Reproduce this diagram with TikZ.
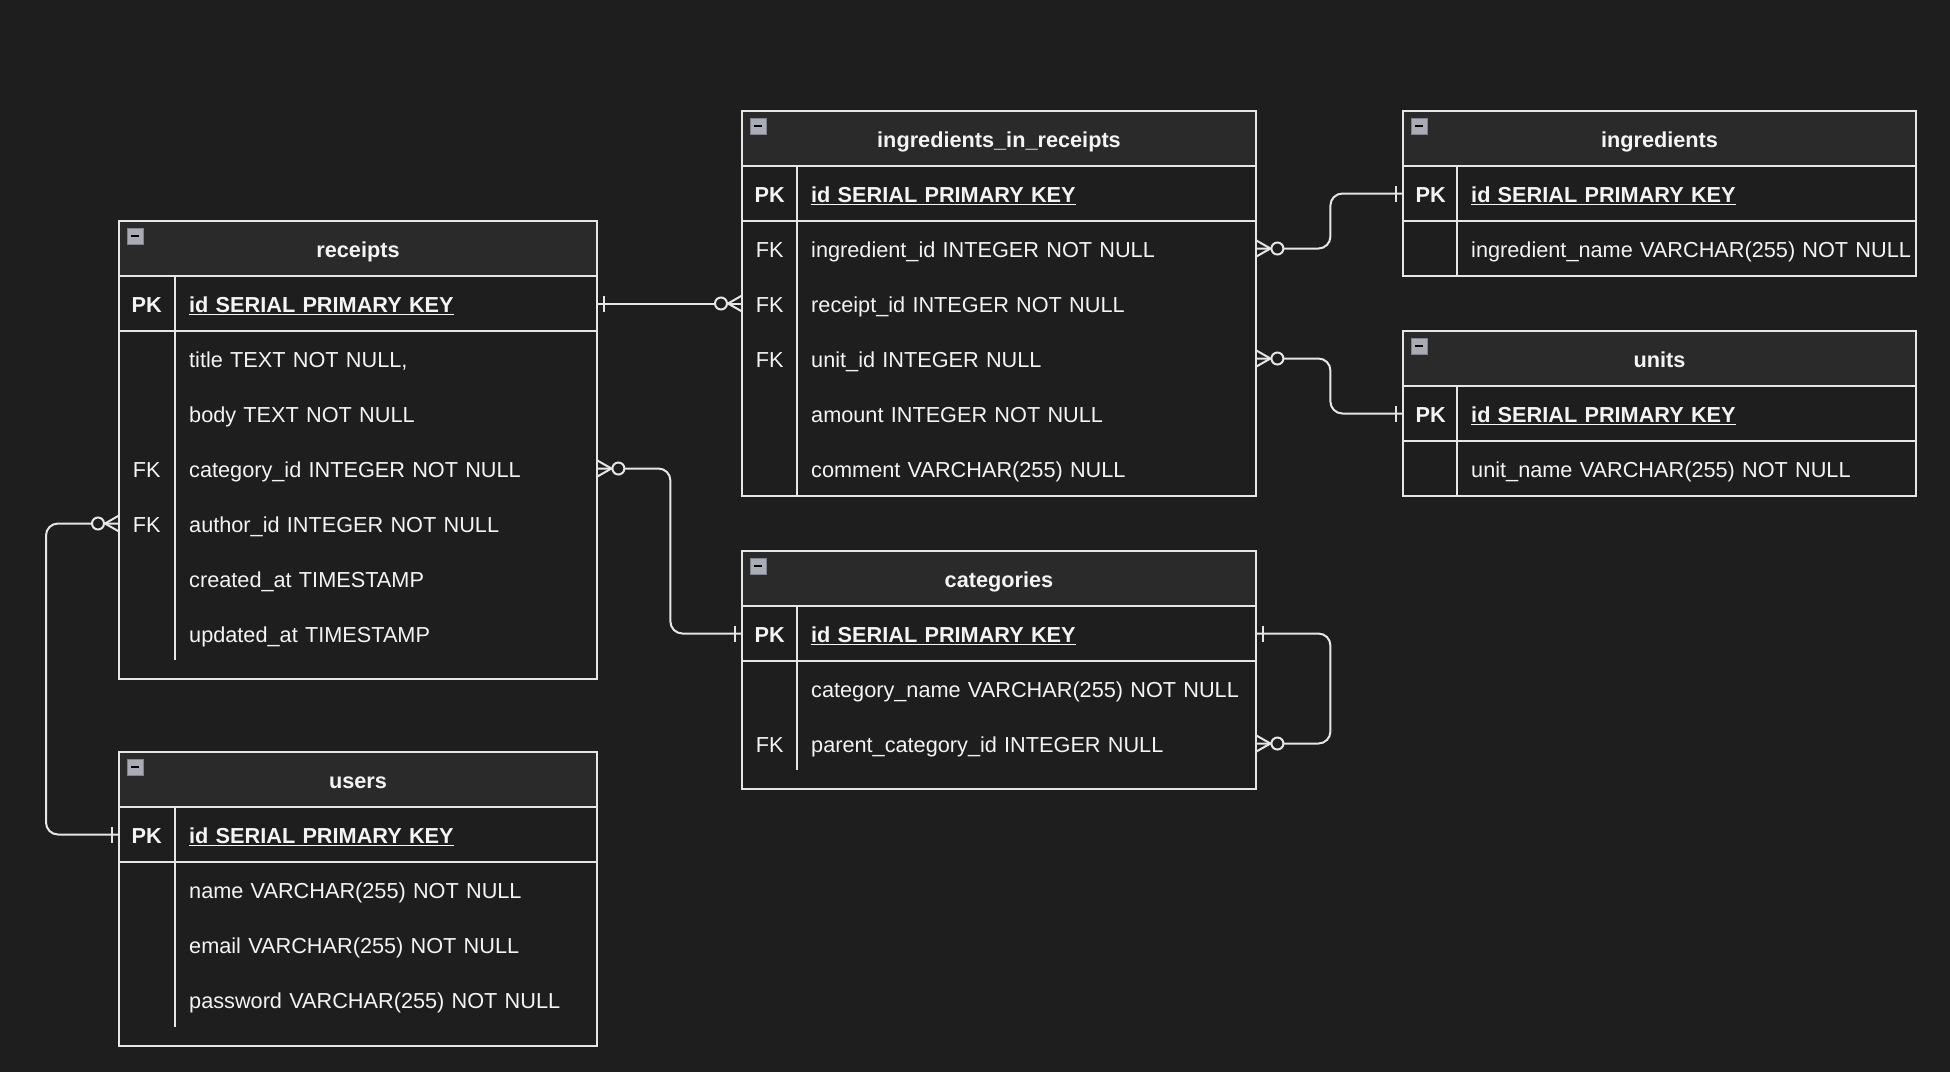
\documentclass[tikz,border=0pt]{standalone}
\usepackage{fontspec}
\setmainfont{Liberation Sans}
\usetikzlibrary{calc}

\definecolor{canvas}{HTML}{1E1E1E}
\definecolor{headfill}{HTML}{2A2A2A}
\definecolor{edge}{HTML}{E6E6E6}
\definecolor{ink}{HTML}{F4F4F4}
\definecolor{iconfill}{HTML}{A9ACB5}
\definecolor{iconedge}{HTML}{7D8391}

\newcommand{\erfont}{\fontsize{21.7pt}{26pt}\selectfont}

\tikzset{
  tbl/.style={draw=edge, line width=2pt},
  hdr/.style={tbl, fill=headfill},
  tname/.style={text=ink, font=\erfont\bfseries, inner sep=0pt, text height=17.6pt, text depth=0pt},
  kcell/.style={anchor=west, text=ink, font=\erfont, minimum width=55pt, inner sep=0pt, text height=17.6pt, text depth=0pt},
  fcell/.style={anchor=west, text=ink, font=\erfont, inner xsep=14pt, inner ysep=0pt, text width=#1, align=left, text height=17.6pt, text depth=0pt},
  conn/.style={draw=edge, line width=2pt, rounded corners=12pt},
  many/.pic={
    \draw[edge, line width=2pt] (0,-8) -- (-14,0) -- (0,8);
    \draw[edge, line width=2pt, fill=canvas] (-21,0) circle (6);
  },
  one/.pic={\draw[edge, line width=2pt] (-7,-8) -- (-7,8);},
  icon/.pic={
    \draw[iconedge, fill=iconfill, line width=1pt] (0,0) rectangle (16,-16);
    \draw[black, line width=2pt] (4,-8) -- (12,-8);
  }
}

\begin{document}
\begin{tikzpicture}[x=1pt,y=1pt,yscale=-1]
%Background
\fill[canvas] (0,0) rectangle (1950,1072);

%Table: receipts
\draw[tbl] (119,221) rectangle (597,679);
\draw[hdr] (119,221) rectangle (597,276);
\draw[tbl] (119,331) -- (597,331);
\draw[tbl] (175,276) -- (175,660);
\pic at (127,228) {icon};
% Text Node
\node[tname] (rc-h) at (358,248.5) {receipts};
\node[kcell] (rc-k1) at (119,303.5) {\textbf{PK}};
\node[fcell=394pt] (rc-f1) at (175,303.5) {\textbf{\underline{id SERIAL PRIMARY KEY}}};
\node[fcell=394pt] (rc-f2) at (175,358.5) {title TEXT NOT NULL,};
\node[fcell=394pt] (rc-f3) at (175,413.5) {body TEXT NOT NULL};
\node[kcell] (rc-k4) at (119,468.5) {FK};
\node[fcell=394pt] (rc-f4) at (175,468.5) {category\_id INTEGER NOT NULL};
\node[kcell] (rc-k5) at (119,523.5) {FK};
\node[fcell=394pt] (rc-f5) at (175,523.5) {author\_id INTEGER NOT NULL};
\node[fcell=394pt] (rc-f6) at (175,578.5) {created\_at TIMESTAMP};
\node[fcell=394pt] (rc-f7) at (175,633.5) {updated\_at TIMESTAMP};

%Table: users
\draw[tbl] (119,752) rectangle (597,1046);
\draw[hdr] (119,752) rectangle (597,807);
\draw[tbl] (119,862) -- (597,862);
\draw[tbl] (175,807) -- (175,1027);
\pic at (127,759) {icon};
% Text Node
\node[tname] (us-h) at (358,779.5) {users};
\node[kcell] (us-k1) at (119,834.5) {\textbf{PK}};
\node[fcell=394pt] (us-f1) at (175,834.5) {\textbf{\underline{id SERIAL PRIMARY KEY}}};
\node[fcell=394pt] (us-f2) at (175,889.5) {name VARCHAR(255) NOT NULL};
\node[fcell=394pt] (us-f3) at (175,944.5) {email VARCHAR(255) NOT NULL};
\node[fcell=394pt] (us-f4) at (175,999.5) {password VARCHAR(255) NOT NULL};

%Table: ingredients_in_receipts
\draw[tbl] (742,111) rectangle (1256,496);
\draw[hdr] (742,111) rectangle (1256,166);
\draw[tbl] (742,221) -- (1256,221);
\draw[tbl] (797,166) -- (797,496);
\pic at (750,118) {icon};
% Text Node
\node[tname] (iir-h) at (999,138.5) {ingredients\_in\_receipts};
\node[kcell] (iir-k0) at (742,193.5) {\textbf{PK}};
\node[fcell=431pt] (iir-f0) at (797,193.5) {\textbf{\underline{id SERIAL PRIMARY KEY}}};
\node[kcell] (iir-k1) at (742,248.5) {FK};
\node[fcell=431pt] (iir-f1) at (797,248.5) {ingredient\_id INTEGER NOT NULL};
\node[kcell] (iir-k3) at (742,303.5) {FK};
\node[fcell=431pt] (iir-f3) at (797,303.5) {receipt\_id INTEGER NOT NULL};
\node[kcell] (iir-k4) at (742,358.5) {FK};
\node[fcell=431pt] (iir-f4) at (797,358.5) {unit\_id INTEGER NULL};
\node[fcell=431pt] (iir-f5) at (797,413.5) {amount INTEGER NOT NULL};
\node[fcell=431pt] (iir-f6) at (797,468.5) {comment VARCHAR(255) NULL};

%Table: ingredients
\draw[tbl] (1403,111) rectangle (1916,276);
\draw[hdr] (1403,111) rectangle (1916,166);
\draw[tbl] (1403,221) -- (1916,221);
\draw[tbl] (1457,166) -- (1457,276);
\pic at (1411,118) {icon};
% Text Node
\node[tname] (ing-h) at (1659.5,138.5) {ingredients};
\node[kcell] (ing-k1) at (1403,193.5) {\textbf{PK}};
\node[fcell=431pt] (ing-f1) at (1457,193.5) {\textbf{\underline{id SERIAL PRIMARY KEY}}};
\node[fcell=431pt] (ing-f2) at (1457,248.5) {\mbox{ingredient\_name VARCHAR(255) NOT NULL}};

%Table: units
\draw[tbl] (1403,331) rectangle (1916,496);
\draw[hdr] (1403,331) rectangle (1916,386);
\draw[tbl] (1403,441) -- (1916,441);
\draw[tbl] (1457,386) -- (1457,496);
\pic at (1411,338) {icon};
% Text Node
\node[tname] (un-h) at (1659.5,358.5) {units};
\node[kcell] (un-k1) at (1403,413.5) {\textbf{PK}};
\node[fcell=431pt] (un-f1) at (1457,413.5) {\textbf{\underline{id SERIAL PRIMARY KEY}}};
\node[fcell=431pt] (un-f2) at (1457,468.5) {unit\_name VARCHAR(255) NOT NULL};

%Table: categories
\draw[tbl] (742,551) rectangle (1256,789);
\draw[hdr] (742,551) rectangle (1256,606);
\draw[tbl] (742,661) -- (1256,661);
\draw[tbl] (797,606) -- (797,770);
\pic at (750,558) {icon};
% Text Node
\node[tname] (cat-h) at (999,578.5) {categories};
\node[kcell] (cat-k1) at (742,633.5) {\textbf{PK}};
\node[fcell=431pt] (cat-f1) at (797,633.5) {\textbf{\underline{id SERIAL PRIMARY KEY}}};
\node[fcell=431pt] (cat-f2) at (797,688.5) {\mbox{category\_name VARCHAR(255) NOT NULL}};
\node[kcell] (cat-k3) at (742,743.5) {FK};
\node[fcell=431pt] (cat-f3) at (797,743.5) {parent\_category\_id INTEGER NULL};

%Connectors
\draw[conn] (rc-f1.east) -- (iir-k3.west);
\draw[conn] (iir-f1.east) -- ++(74,0) |- (ing-k1.west);
\draw[conn] (iir-f4.east) -- ++(74,0) |- (un-k1.west);
\draw[conn] (rc-f4.east) -- ++(73,0) |- (cat-k1.west);
\draw[conn] (rc-k5.west) -- ++(-73,0) |- (us-k1.west);
\draw[conn] (cat-f1.east) -- ++(74,0) |- (cat-f3.east);

%Connector ends
\pic[rotate=180] at (rc-f1.east) {one};
\pic at (iir-k3.west) {many};
\pic[rotate=180] at (iir-f1.east) {many};
\pic at (ing-k1.west) {one};
\pic[rotate=180] at (iir-f4.east) {many};
\pic at (un-k1.west) {one};
\pic[rotate=180] at (rc-f4.east) {many};
\pic at (cat-k1.west) {one};
\pic at (rc-k5.west) {many};
\pic at (us-k1.west) {one};
\pic[rotate=180] at (cat-f1.east) {one};
\pic[rotate=180] at (cat-f3.east) {many};
\end{tikzpicture}
\end{document}
